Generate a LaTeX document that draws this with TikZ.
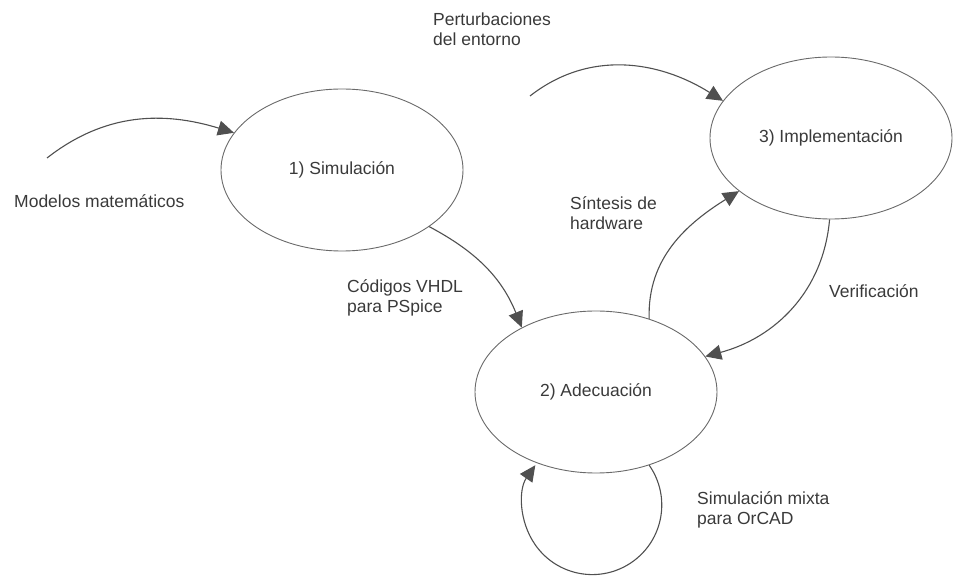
\documentclass[tikz,border=0pt]{standalone}
\usepackage{fontspec}
\setmainfont{Liberation Sans}
\usetikzlibrary{shapes.geometric,arrows.meta,positioning}
\definecolor{linegray}{HTML}{505050}
\definecolor{edgegray}{HTML}{6A6A6A}
\definecolor{textgray}{HTML}{3A3A3A}
\tikzstyle{state} = [ellipse, draw=edgegray, line width=0.9pt,
    minimum width=242pt, minimum height=162pt, inner sep=0pt,
    text=textgray]
\tikzstyle{note} = [inner sep=0pt, text=textgray, align=left]
\tikzstyle{line} = [draw=linegray, line width=1.1pt,
    -{Triangle[length=16pt,width=15pt]}]

\begin{document}
\begin{tikzpicture}[x=1pt,y=1pt,
  every node/.style={font=\fontsize{17.5}{20}\selectfont}]
    \useasboundingbox (0,0) rectangle (954,576);
    % Place nodes
    \node [state] (sim) at (342,406) {1) Simulación};
    \node [state, on grid, below right=222pt and 254pt of sim] (ade)
    {2) Adecuación};
    \node [state, on grid, above right=254pt and 235pt of ade] (imp)
    {3) Implementación};
    \coordinate (modin) at (47,418);
    \coordinate (pertin) at (530,480);

    % Labels
    \node [note, anchor=base west] (modlab) at (14,368)
    {Modelos matemáticos};
    \node [note, anchor=north west] (vhdllab) at (347,297)
    {Códigos VHDL\\para PSpice};
    \node [note, anchor=north west] (pertlab) at (433,563)
    {Perturbaciones\\del entorno};
    \node [note, anchor=north west] (sintlab) at (570,380)
    {Síntesis de\\hardware};
    \node [note, anchor=base west] (verlab) at (829,278)
    {Verificación};
    \node [note, anchor=north west] (mixlab) at (697,85)
    {Simulación mixta\\para OrCAD};

    % Draw edges
    \path [line] (modin) to[out=38, in=163] (sim.161);
    \path [line] (sim.-33) to[out=-28, in=112] (ade.139);
    \path [line] (pertin) to[out=38, in=148] (imp.161);
    \path [line] (ade.54) to[out=92, in=212] (imp.210);
    \path [line] (imp.-91) to[out=-95, in=15] (ade.18);
    \path [line] (ade.-54) arc[start angle=35, end angle=-215,
    radius=69.5];
\end{tikzpicture}
\end{document}
